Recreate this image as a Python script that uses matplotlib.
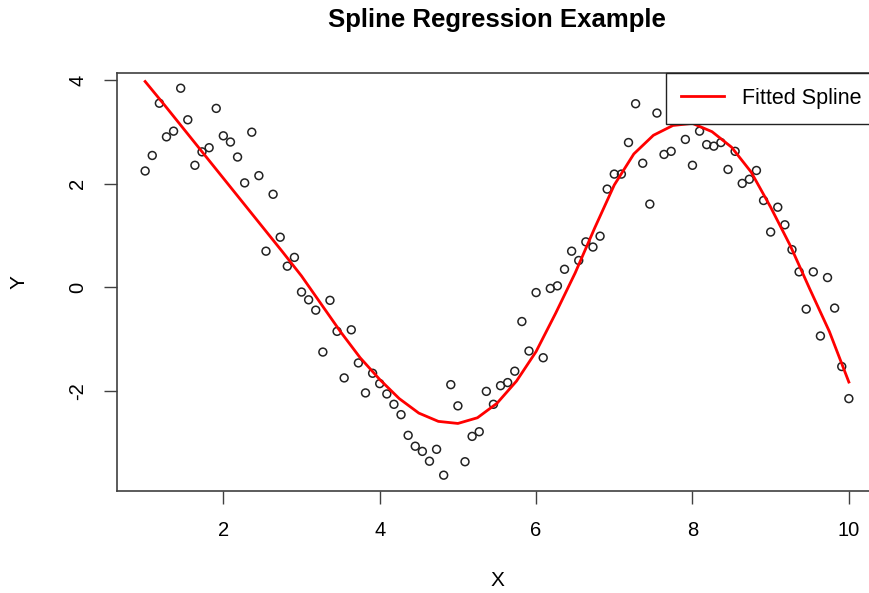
import numpy as np
import matplotlib
matplotlib.use("Agg")
import matplotlib.pyplot as plt

plt.rcParams['font.family'] = ['Liberation Sans', 'DejaVu Sans']
plt.rcParams['axes.unicode_minus'] = False

# observed points, x = seq(1, 10, length.out = 100)
x_start, x_stop, n_points = 1, 10, 100
y_obs = [2.25, 2.55, 3.56, 2.91, 3.02, 3.85, 3.24, 2.36, 2.62, 2.70,
         3.46, 2.93, 2.81, 2.52, 2.02, 3.00, 2.16, 0.70, 1.80, 0.97,
         0.41, 0.58, -0.09, -0.24, -0.44, -1.25, -0.25, -0.85, -1.75, -0.82,
         -1.46, -2.04, -1.66, -1.86, -2.06, -2.26, -2.46, -2.86, -3.07, -3.17,
         -3.36, -3.13, -3.63, -1.88, -2.29, -3.37, -2.88, -2.79, -2.01, -2.26,
         -1.90, -1.84, -1.62, -0.66, -1.23, -0.10, -1.36, -0.02, 0.03, 0.35,
         0.70, 0.52, 0.88, 0.78, 0.99, 1.90, 2.19, 2.19, 2.80, 3.55,
         2.40, 1.61, 3.37, 2.57, 2.63, 3.30, 2.86, 2.36, 3.02, 2.76,
         2.73, 2.80, 2.28, 2.63, 2.01, 2.09, 2.26, 1.68, 1.07, 1.55,
         1.21, 0.73, 0.30, -0.42, 0.30, -0.94, 0.19, -0.40, -1.53, -2.15]

# fitted spline every 0.25
spline_x = [1.0, 1.25, 1.5, 1.75, 2.0, 2.25, 2.5, 2.75, 3.0, 3.25,
            3.5, 3.75, 4.0, 4.25, 4.5, 4.75, 5.0, 5.25, 5.5, 5.75,
            6.0, 6.25, 6.5, 6.75, 7.0, 7.25, 7.5, 7.75, 8.0, 8.25,
            8.5, 8.75, 9.0, 9.25, 9.5, 9.75, 10.0]
spline_y = [3.98, 3.52, 3.05, 2.58, 2.11, 1.64, 1.17, 0.70, 0.22, -0.32,
            -0.86, -1.36, -1.78, -2.15, -2.43, -2.59, -2.63, -2.52, -2.24, -1.81,
            -1.24, -0.50, 0.28, 1.15, 1.98, 2.58, 2.94, 3.13, 3.17, 3.01,
            2.71, 2.23, 1.55, 0.81, -0.03, -0.85, -1.83]

x_obs = np.linspace(x_start, x_stop, n_points)

fig = plt.figure(figsize=(8.7, 5.93), dpi=100)
ax = fig.add_axes([117 / 870, 1 - 490.7 / 593, 760 / 870, 418 / 593])

ax.scatter(x_obs, y_obs, s=32, facecolors='none', edgecolors='#222222', linewidths=1.1, zorder=2)
ax.plot(spline_x, spline_y, color='red', lw=2.0, label='Fitted Spline', zorder=3,
        solid_joinstyle='round')

ax.set_xlim(0.64, 10.36)
ax.set_ylim(-3.93, 4.15)
ax.set_xticks([2, 4, 6, 8, 10])
ax.set_yticks([-2, 0, 2, 4])
ax.tick_params(direction='out', length=9.5, width=1.0, color='#404040', labelsize=14.5, pad=12)
plt.setp(ax.get_yticklabels(), rotation=90, va='center')
for s in ax.spines.values():
    s.set_color('#404040')
    s.set_linewidth(1.2)

ax.set_xlabel('X', fontsize=15)
ax.set_ylabel('Y', fontsize=15)
ax.xaxis.set_label_coords(0.5, -0.193)
ax.yaxis.set_label_coords(-0.116, 0.5)

leg = ax.legend(loc='upper right', borderaxespad=0, fancybox=False, framealpha=1,
                edgecolor='#222222', fontsize=15.5, handlelength=2.0, handletextpad=0.85,
                borderpad=0.7)
leg.get_frame().set_linewidth(1.0)

fig.text(497 / 870, 1 - 20 / 593, 'Spline Regression Example', ha='center', va='center',
         fontsize=18.5, fontweight='bold')

fig.savefig('out.png', dpi=100)
